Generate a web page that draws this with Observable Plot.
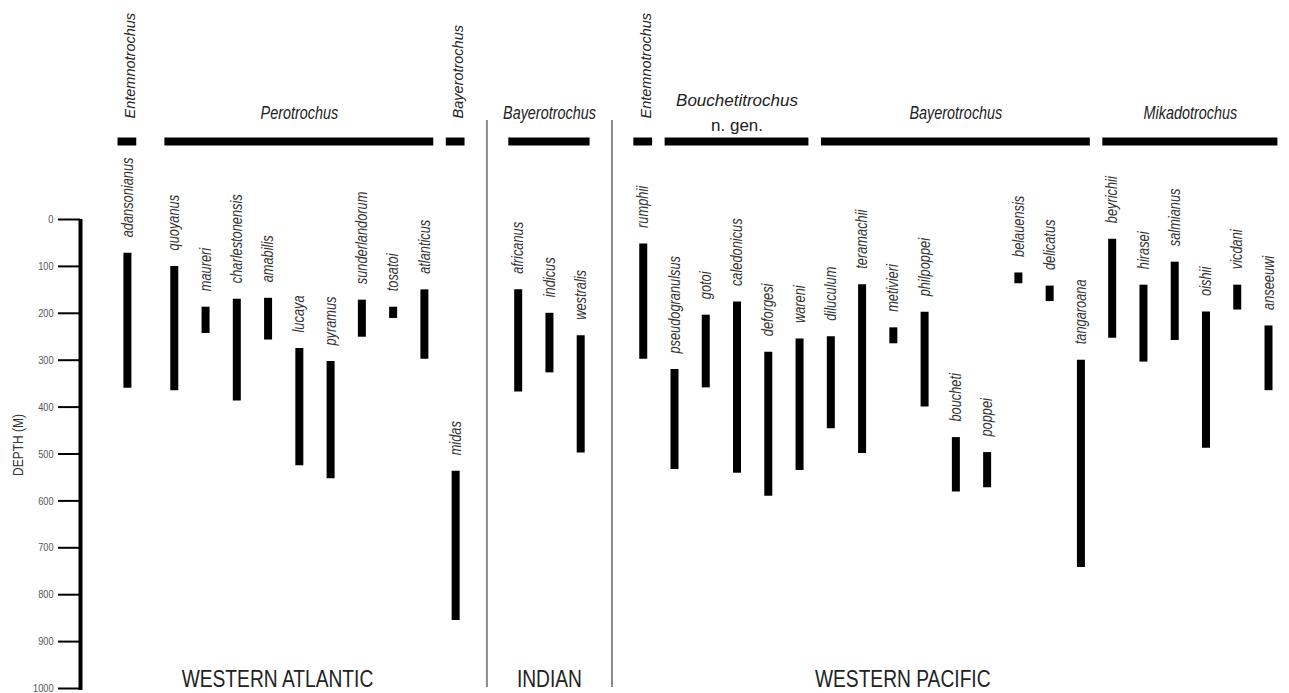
<!DOCTYPE html>
<html><head><meta charset="utf-8">
<script src="https://cdn.jsdelivr.net/npm/d3@7"></script>
<script src="https://cdn.jsdelivr.net/npm/@observablehq/plot@0.6"></script>
<style>body{margin:0;background:#fff}#chart svg{display:block}</style>
</head><body><div id="chart"></div>
<script>
// ---------- data ----------
const species = ["adansonianus","quoyanus","maureri","charlestonensis","amabilis","lucaya","pyramus","sunderlandorum","tosatoi","atlanticus","midas",
  "africanus","indicus","westralis",
  "rumphii","pseudogranulsus","gotoi","caledonicus","deforgesi","wareni","diluculum","teramachii","metivieri","philpoppei","boucheti","poppei","belauensis","delicatus","tangaroana","beyrichii","hirasei","salmianus","oishii","vicdani","anseeuwi"];
const speciesRegion = ["WESTERN ATLANTIC","WESTERN ATLANTIC","WESTERN ATLANTIC","WESTERN ATLANTIC","WESTERN ATLANTIC","WESTERN ATLANTIC","WESTERN ATLANTIC","WESTERN ATLANTIC","WESTERN ATLANTIC","WESTERN ATLANTIC","WESTERN ATLANTIC",
  "INDIAN","INDIAN","INDIAN",
  "WESTERN PACIFIC","WESTERN PACIFIC","WESTERN PACIFIC","WESTERN PACIFIC","WESTERN PACIFIC","WESTERN PACIFIC","WESTERN PACIFIC","WESTERN PACIFIC","WESTERN PACIFIC","WESTERN PACIFIC","WESTERN PACIFIC","WESTERN PACIFIC","WESTERN PACIFIC","WESTERN PACIFIC","WESTERN PACIFIC","WESTERN PACIFIC","WESTERN PACIFIC","WESTERN PACIFIC","WESTERN PACIFIC","WESTERN PACIFIC","WESTERN PACIFIC"];
const speciesGenus = ["Entemnotrochus","Perotrochus","Perotrochus","Perotrochus","Perotrochus","Perotrochus","Perotrochus","Perotrochus","Perotrochus","Perotrochus","Bayerotrochus",
  "Bayerotrochus","Bayerotrochus","Bayerotrochus",
  "Entemnotrochus","Bouchetitrochus","Bouchetitrochus","Bouchetitrochus","Bouchetitrochus","Bouchetitrochus","Bayerotrochus","Bayerotrochus","Bayerotrochus","Bayerotrochus","Bayerotrochus","Bayerotrochus","Bayerotrochus","Bayerotrochus","Bayerotrochus","Mikadotrochus","Mikadotrochus","Mikadotrochus","Mikadotrochus","Mikadotrochus","Mikadotrochus"];
const depthTop =    [72,100,187,170,168,275,303,172,187,150,537, 150,200,248, 52,320,204,176,283,255,250,139,231,198,465,497,114,142,300, 42,140, 91,197,140,227];
const depthBottom = [360,365,243,387,257,525,553,251,211,298,855, 368,327,498, 298,533,359,541,590,535,446,499,265,400,581,572,137,175,742,253,304,258,488,193,365];
const regions = ["WESTERN ATLANTIC","INDIAN","WESTERN PACIFIC"];
const genusNotes = {"Bouchetitrochus": "n. gen."};
const depthTicks = [0,100,200,300,400,500,600,700,800,900,1000];
const yLabel = "DEPTH (M)";

// ---------- layout ----------
const extraGap = {quoyanus: 0.5, africanus: 1, rumphii: 1};
const regionLabelSlot = [4.8, 13.5, 24.8];
const genusPad = 0.3;
const narrow = "Arial,'Liberation Sans',sans-serif";   // condensed after render
const sans = "'Liberation Sans',Arial,sans-serif";

let s = -1;
const rows = species.map((name, i) => {
  s += 1 + (extraGap[name] || 0);
  return {name, region: speciesRegion[i], genus: speciesGenus[i], top: depthTop[i], bottom: depthBottom[i], slot: s};
});

// contiguous genus runs
const groups = [];
rows.forEach(r => {
  const g = groups[groups.length - 1];
  if (g && g.genus === r.genus && g.region === r.region) { g.last = r.slot; g.n++; }
  else groups.push({genus: r.genus, region: r.region, first: r.slot, last: r.slot, n: 1, note: genusNotes[r.genus] || null});
});
groups.forEach(g => { g.x1 = g.first - genusPad; g.x2 = g.last + genusPad; g.xc = (g.first + g.last) / 2; });

// region separators
const separators = [];
for (let i = 1; i < rows.length; i++) {
  if (rows[i].region !== rows[i-1].region) separators.push((rows[i].slot + rows[i-1].slot) / 2);
}

const xMin = -1.5;
const chart = Plot.plot({
  width: 1289, height: 693,
  marginLeft: 80, marginRight: 21, marginTop: 219, marginBottom: 5,
  x: {domain: [xMin, d3.max(rows, d => d.slot)], axis: null},
  y: {domain: [0, 1000], reverse: true, axis: null},
  style: {background: "white", fontFamily: sans},
  marks: [
    // separators
    Plot.ruleX(separators, {x: d => d, y1: () => 0, y2: () => 1000, insetTop: -99, insetBottom: 1, stroke: "#8a8a8a", strokeWidth: 2}),
    // depth axis
    Plot.ruleX([xMin], {x: d => d, y1: () => 0, y2: () => 1000, stroke: "#000", strokeWidth: 4, insetBottom: -2}),
    Plot.axisY(depthTicks, {anchor: "left", tickSize: 22, tickPadding: 5, stroke: "#000", strokeWidth: 2, fill: "#555", fontSize: 11.5, fontFamily: narrow, tickFormat: d => String(d), label: null}),
    Plot.text([yLabel], {frameAnchor: "left", dx: -62, dy: -9, rotate: -90, textAnchor: "middle", fontSize: 15, fill: "#333", fontFamily: narrow}),
    // depth ranges
    Plot.ruleX(rows, {x: "slot", y1: "top", y2: "bottom", stroke: "#000", strokeWidth: 8}),
    Plot.text(rows, {x: "slot", y: "top", text: "name", rotate: -90, textAnchor: "start", lineAnchor: "middle", dy: -16, fontStyle: "italic", fontSize: 16, fill: "#333", fontFamily: narrow}),
    // genus bars
    Plot.ruleY(groups, {x1: "x1", x2: "x2", y: () => 0, dy: -78, stroke: "#000", strokeWidth: 8}),
    // genus labels
    Plot.text(groups.filter(g => g.n === 1), {x: "xc", y: () => 0, text: "genus", rotate: -90, textAnchor: "start", lineAnchor: "middle", dy: -101, dx: 3, fontStyle: "italic", fontSize: 14.5, fill: "#222", fontFamily: sans}),
    Plot.text(groups.filter(g => g.n > 1 && !g.note), {x: "xc", y: () => 0, text: "genus", lineAnchor: "bottom", dy: -101, fontStyle: "italic", fontSize: 18, fill: "#222", fontFamily: narrow}),
    Plot.text(groups.filter(g => g.note), {x: "xc", y: () => 0, text: "genus", lineAnchor: "bottom", dy: -114, fontStyle: "italic", fontSize: 17, fill: "#222"}),
    Plot.text(groups.filter(g => g.note), {x: "xc", y: () => 0, text: "note", lineAnchor: "bottom", dy: -89, fontSize: 17, fill: "#222"}),
    // region labels
    Plot.text(regions, {x: (d, i) => regionLabelSlot[i], text: d => d, frameAnchor: "bottom", dy: -2, lineAnchor: "bottom", fontSize: 24, fill: "#222", fontFamily: narrow})
  ]
});
document.getElementById("chart").appendChild(chart);
// condense the narrow-face texts (Arial Narrow look)
d3.select(chart).selectAll('g[font-family^="Arial"] text').each(function () {
  const L = this.getComputedTextLength();
  if (L > 0) {
    this.setAttribute("textLength", (L * 0.8).toFixed(2));
    this.setAttribute("lengthAdjust", "spacingAndGlyphs");
  }
});
</script>
</body></html>
